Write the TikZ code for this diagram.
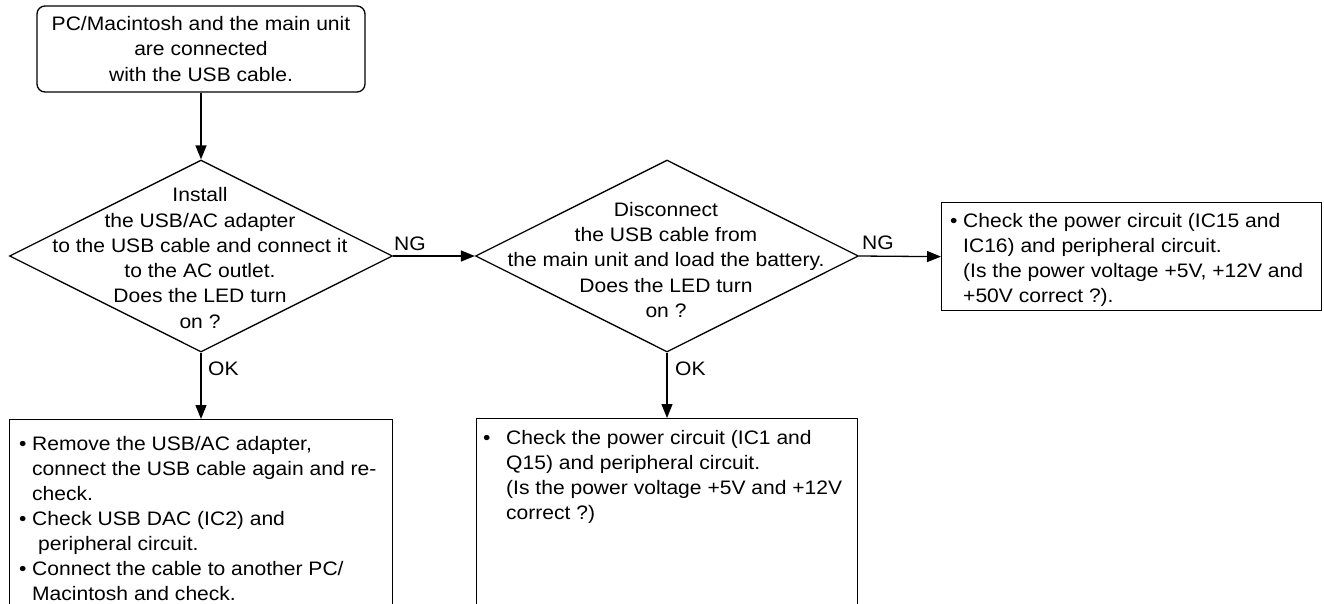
\documentclass[tikz,border=0pt]{standalone}
\usepackage{fontspec}
\setmainfont{Liberation Sans}[FakeStretch=1.08]
\usetikzlibrary{shapes.geometric,arrows.meta}
\begin{document}
\begin{tikzpicture}[x=1pt,y=-1pt,
  every node/.style={font=\fontsize{19.5}{25.3}\selectfont},
  ln/.style={line width=1.3pt},
  box/.style={draw, ln, rectangle, inner sep=0pt, anchor=north west},
  dia/.style={draw, ln, diamond, inner sep=0pt, minimum width=383pt, minimum height=192pt},
  arr/.style={ln, -{Triangle[length=14pt,width=11pt]}},
  txt/.style={inner sep=0pt, anchor=base west},
  dtext/.style={inner sep=0pt, align=center},
  lbl/.style={inner sep=0pt, anchor=base west}
]
\useasboundingbox (0,0) rectangle (1324,603);
\clip (0,0) rectangle (1324,603);

% start box
\node[draw, ln, rounded corners=8pt, minimum width=328pt, minimum height=86pt,
      align=center, inner sep=0pt] (top) at (201,49)
  {PC/Macintosh and the main unit\\are connected\\with the USB cable.};

% decisions
\node[dia] (d1) at (201,256) {};
\node[dtext] (d1t) at (200,258) {Install\\the USB/AC adapter\\to the USB cable and connect it\\to the AC outlet.\\Does the LED turn\\on ?};

\node[dia] (d2) at (667,256) {};
\node[dtext] (d2t) at (666,260) {Disconnect\\the USB cable from\\the main unit and load the battery.\\Does the LED turn\\on ?};

% result boxes
\node[box, minimum width=380pt, minimum height=108pt] (b3) at (941,202) {};
\node[txt] (t3) at (950,227) {\begin{tabular}[t]{@{}l@{}}
\makebox[13pt][l]{\textbullet}Check the power circuit (IC15 and\\
\hspace*{13pt}IC16) and peripheral circuit.\\
\hspace*{13pt}(Is the power voltage +5V, +12V and\\
\hspace*{13pt}+50V correct ?).
\end{tabular}};

\node[box, minimum width=383pt, minimum height=240pt] (b4) at (9,419) {};
\node[txt, font=\fontsize{19.5}{25}\selectfont] (t4) at (19,450) {\begin{tabular}[t]{@{}l@{}}
\makebox[13pt][l]{\textbullet}Remove the USB/AC adapter,\\
\hspace*{13pt}connect the USB cable again and re-\\
\hspace*{13pt}check.\\
\makebox[13pt][l]{\textbullet}Check USB DAC (IC2) and\\
\hspace*{19pt}peripheral circuit.\\
\makebox[13pt][l]{\textbullet}Connect the cable to another PC/\\
\hspace*{13pt}Macintosh and check.
\end{tabular}};

\node[box, minimum width=381pt, minimum height=240pt] (b5) at (476,418) {};
\node[txt] (t5) at (483,444) {\begin{tabular}[t]{@{}l@{}}
\makebox[23pt][l]{\textbullet}Check the power circuit (IC1 and\\
\hspace*{23pt}Q15) and peripheral circuit.\\
\hspace*{23pt}(Is the power voltage +5V and +12V\\
\hspace*{23pt}correct ?)
\end{tabular}};

% connectors
\draw[arr] (top.south) -- (d1.north);
\draw[arr] (d1.east) -- (d2.west);
\draw[arr] (d2.east) -- (b3.west);
\draw[arr] (d1.south) -- (d1.south |- b4.north);
\draw[arr] (d2.south) -- (d2.south |- b5.north);

% labels
\node[lbl] (ng1) at (394,250) {NG};
\node[lbl] (ng2) at (862,249) {NG};
\node[lbl] (ok1) at (208,375) {OK};
\node[lbl] (ok2) at (675,375) {OK};
\end{tikzpicture}
\end{document}
